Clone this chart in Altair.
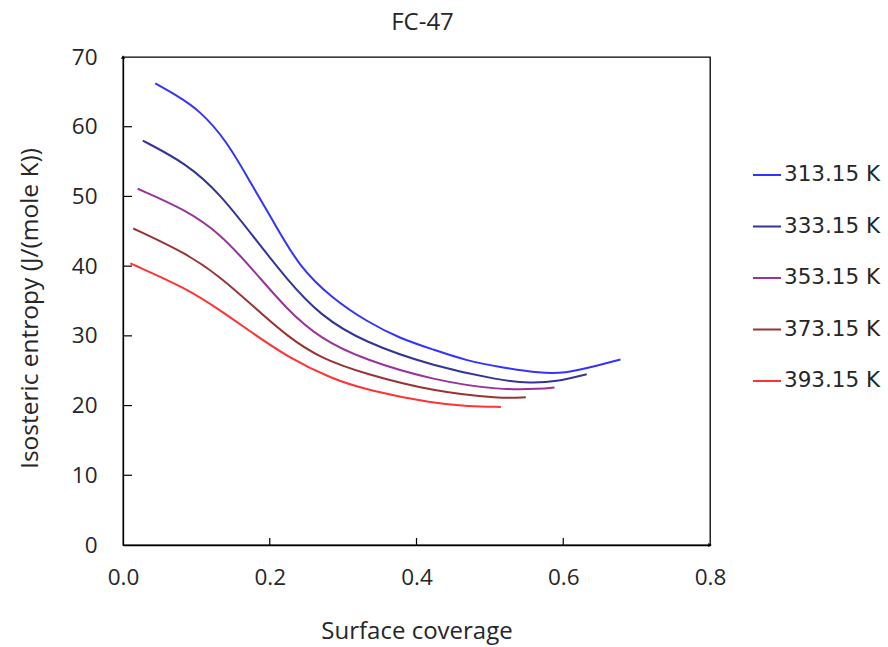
import altair as alt
import pandas as pd

series_names = ["313.15 K", "333.15 K", "353.15 K", "373.15 K", "393.15 K"]
series_colors = ["#3333FF", "#333399", "#993399", "#993333", "#FF3333"]

x_313 = [0.044, 0.073, 0.105, 0.141, 0.172, 0.204, 0.240, 0.285, 0.333, 0.378, 0.424, 0.469, 0.515, 0.569, 0.605, 0.630, 0.678]
y_313 = [66.2, 64.5, 62.3, 58.0, 52.3, 46.6, 39.9, 35.4, 32.0, 29.6, 28.0, 26.4, 25.5, 24.6, 24.7, 25.3, 26.6]

x_333 = [0.027, 0.087, 0.132, 0.178, 0.224, 0.269, 0.328, 0.424, 0.515, 0.555, 0.590, 0.632]
y_333 = [58.0, 54.7, 50.4, 44.2, 38.0, 32.9, 29.1, 25.6, 23.6, 23.2, 23.4, 24.5]

x_353 = [0.020, 0.087, 0.132, 0.178, 0.224, 0.269, 0.328, 0.424, 0.515, 0.569, 0.588]
y_353 = [51.1, 48.0, 44.7, 39.4, 33.7, 29.6, 26.6, 23.6, 22.2, 22.4, 22.6]

x_373 = [0.014, 0.087, 0.132, 0.178, 0.224, 0.269, 0.328, 0.424, 0.515, 0.549]
y_373 = [45.4, 41.8, 38.5, 34.2, 29.9, 26.8, 24.6, 22.0, 21.0, 21.2]

x_393 = [0.010, 0.087, 0.132, 0.178, 0.224, 0.283, 0.333, 0.424, 0.470, 0.515]
y_393 = [40.4, 36.8, 33.7, 30.3, 27.0, 23.9, 22.2, 20.3, 19.9, 19.8]

x_tick_values = [0.0, 0.2, 0.4, 0.6, 0.8]
y_tick_values = [0, 10, 20, 30, 40, 50, 60, 70]
x_inner_ticks = [0.2, 0.4, 0.6]
y_inner_ticks = [10, 20, 30, 40, 50, 60]

rows = []
for name, xs, ys in zip(series_names, [x_313, x_333, x_353, x_373, x_393],
                        [y_313, y_333, y_353, y_373, y_393]):
    for i, (xv, yv) in enumerate(zip(xs, ys)):
        rows.append({"series": name, "coverage": xv, "entropy": yv, "order": i})
df = pd.DataFrame(rows)

W, H = 587, 488
FONT = "Open Sans"
TXT = "#262626"
FS = 22.5

x_scale = alt.Scale(domain=[0, 0.8], nice=False, zero=False)
y_scale = alt.Scale(domain=[0, 70], nice=False)

x_axis = alt.Axis(title="Surface coverage", values=x_tick_values, format=".1f",
                  ticks=False, grid=False, labelPadding=21, titlePadding=31,
                  labelFont=FONT, titleFont=FONT, labelFontSize=FS, titleFontSize=24,
                  titleFontWeight="normal", labelColor=TXT, titleColor=TXT,
                  domainColor="black", domainWidth=1.3, labelFlush=False)
y_axis = alt.Axis(title="Isosteric entropy (J/(mole K))", values=y_tick_values,
                  ticks=False, grid=False, labelPadding=26, titlePadding=29,
                  labelFont=FONT, titleFont=FONT, labelFontSize=FS, titleFontSize=24.5,
                  titleFontWeight="normal", labelColor=TXT, titleColor=TXT,
                  titleY=251,
                  domainColor="black", domainWidth=1.3, labelFlush=False)

lines = alt.Chart(df).mark_line(interpolate="basis", strokeWidth=2).encode(
    x=alt.X("coverage:Q", scale=x_scale, axis=x_axis),
    y=alt.Y("entropy:Q", scale=y_scale, axis=y_axis),
    color=alt.Color("series:N",
                    scale=alt.Scale(domain=series_names, range=series_colors),
                    sort=series_names,
                    legend=alt.Legend(title=None, orient="none", legendX=629, legendY=103,
                                      symbolType="stroke", symbolSize=784,
                                      symbolStrokeWidth=2, labelFont="DejaVu Sans",
                                      labelFontSize=21.5, labelColor=TXT, labelOffset=2,
                                      rowPadding=25.5, labelLimit=300)),
    order="order:Q",
)

xt = alt.Chart(pd.DataFrame({"v": x_inner_ticks})).mark_rule(color="black", strokeWidth=1.2).encode(
    x=alt.X("v:Q", scale=x_scale), y=alt.value(H), y2=alt.value(H - 7))
yt = alt.Chart(pd.DataFrame({"v": y_inner_ticks})).mark_rule(color="black", strokeWidth=1.2).encode(
    y=alt.Y("v:Q", scale=y_scale), x=alt.value(0), x2=alt.value(9))

arr_up = alt.Chart(pd.DataFrame({"x": [0.0], "y": [70]})).mark_point(
    shape="triangle-up", size=18, filled=True, color="black", opacity=1).encode(
    x=alt.X("x:Q", scale=x_scale), y=alt.Y("y:Q", scale=y_scale))
arr_right = alt.Chart(pd.DataFrame({"x": [0.8], "y": [0]})).mark_point(
    shape="triangle-right", size=18, filled=True, color="black", opacity=1).encode(
    x=alt.X("x:Q", scale=x_scale), y=alt.Y("y:Q", scale=y_scale))

chart = alt.layer(lines, xt, yt, arr_up, arr_right).properties(
    width=W, height=H,
    title=alt.TitleParams("FC-47", font=FONT, fontSize=24, fontWeight="normal",
                          color=TXT, anchor="middle", offset=11, dx=6),
    autosize=alt.AutoSizeParams(type="none"),
    padding={"left": 123, "top": 57, "right": 178, "bottom": 102},
    view=alt.ViewBackground(stroke="black", strokeWidth=1.3),
).configure_view(stroke="black", strokeWidth=1.3).configure(background="white")

chart.save("out.html", embed_options={"renderer": "svg", "actions": False})
